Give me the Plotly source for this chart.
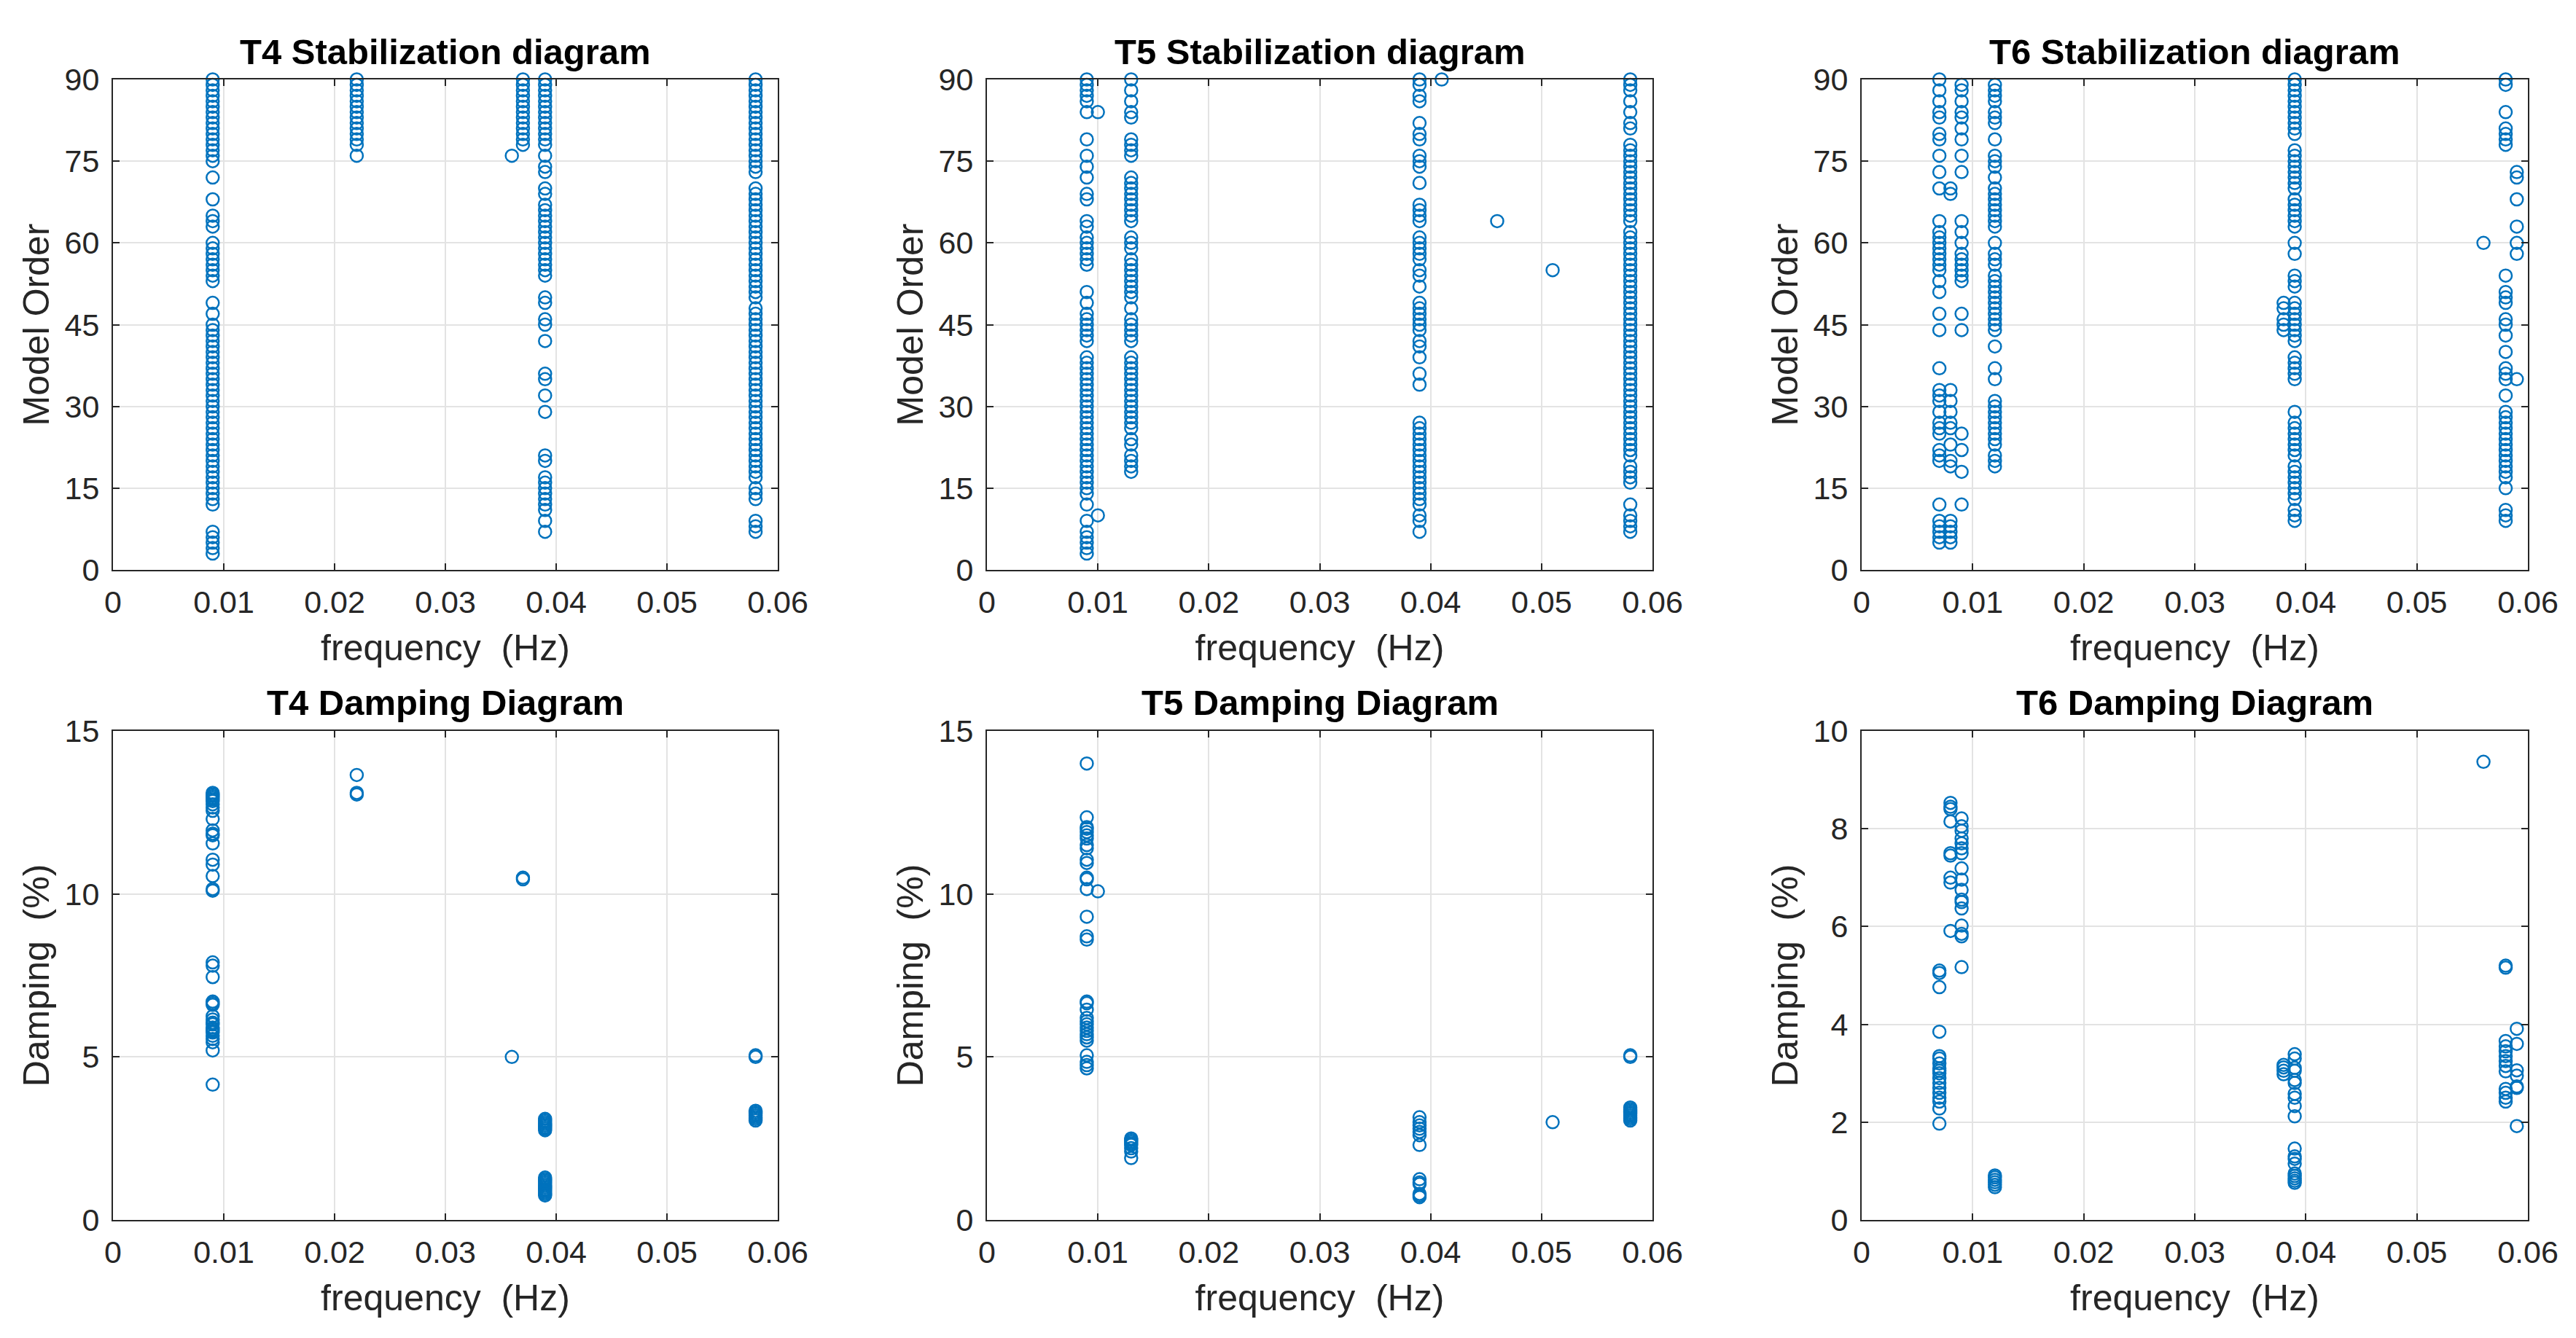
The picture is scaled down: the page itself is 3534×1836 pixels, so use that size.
import plotly.graph_objects as go

# frequencies (Hz) of each pole column and the model orders found there
t4_stab_freq = [0.009, 0.022, 0.036, 0.037, 0.039, 0.058]
t4_stab_order = [
    [3, 4, 5, 6, 7, 12, 13, 14, 15, 16, 17, 18, 19, 20, 21, 22, 23, 24, 25, 26, 27, 28, 29, 30,
     31, 32, 33, 34, 35, 36, 37, 38, 39, 40, 41, 42, 43, 44, 45, 47, 49, 53, 54, 55, 56, 57, 58,
     59, 60, 63, 64, 65, 68, 72, 75, 76, 77, 78, 79, 80, 81, 82, 83, 84, 85, 86, 87, 88, 89, 90],
    [76, 78, 79, 80, 81, 82, 83, 84, 85, 86, 87, 88, 89, 90],
    [76],
    [78, 79, 80, 81, 82, 83, 84, 85, 86, 87, 88, 89, 90],
    [7, 9, 11, 12, 13, 14, 15, 16, 17, 20, 21, 29, 32, 35, 36, 42, 45, 46, 49, 50, 54, 55, 56,
     57, 58, 59, 60, 61, 62, 63, 64, 65, 66, 67, 69, 70, 73, 74, 76, 78, 79, 80, 81, 82, 83, 84,
     85, 86, 87, 88, 89, 90],
    [7, 8, 9, 13, 14, 15, 17, 18, 19, 20, 21, 22, 23, 24, 25, 26, 27, 28, 29, 30, 31, 32, 33, 34,
     35, 36, 37, 38, 39, 40, 41, 42, 43, 44, 45, 46, 47, 48, 50, 51, 52, 53, 54, 55, 56, 57, 58,
     59, 60, 61, 62, 63, 64, 65, 66, 67, 68, 69, 70, 73, 74, 75, 76, 77, 78, 79, 80, 81, 82, 83,
     84, 85, 86, 87, 88, 89, 90],
]

t5_stab_freq = [0.009, 0.010, 0.013, 0.039, 0.041, 0.046, 0.051, 0.058]
t5_stab_order = [
    [3, 4, 5, 6, 7, 9, 12, 14, 15, 16, 17, 18, 19, 20, 21, 22, 23, 24, 25, 26, 27, 28, 29, 30,
     31, 32, 33, 34, 35, 36, 37, 38, 39, 42, 43, 44, 45, 46, 47, 49, 51, 56, 57, 58, 59, 60, 61,
     63, 64, 68, 69, 72, 74, 76, 79, 84, 86, 87, 88, 89, 90],
    [10, 84],
    [18, 19, 20, 21, 23, 24, 26, 27, 28, 29, 30, 31, 32, 33, 34, 35, 36, 37, 38, 39, 42, 43, 44,
     45, 46, 48, 50, 51, 52, 53, 54, 55, 56, 57, 59, 60, 61, 64, 65, 66, 67, 68, 69, 70, 71, 72,
     76, 77, 78, 79, 83, 84, 86, 88, 90],
    [7, 9, 10, 12, 13, 14, 15, 16, 17, 18, 19, 20, 21, 22, 23, 24, 25, 26, 27, 34, 36, 39, 41,
     42, 44, 45, 46, 47, 48, 49, 52, 54, 55, 57, 58, 59, 60, 61, 64, 65, 66, 67, 71, 74, 75, 76,
     79, 80, 82, 86, 87, 89, 90],
    [90],
    [64],
    [55],
    [7, 8, 9, 10, 12, 16, 17, 18, 19, 21, 22, 23, 24, 25, 26, 27, 28, 29, 30, 31, 32, 33, 34, 35,
     36, 37, 38, 39, 40, 41, 42, 43, 44, 45, 46, 47, 48, 49, 50, 51, 52, 53, 54, 55, 56, 57, 58,
     59, 60, 61, 62, 64, 65, 66, 67, 68, 69, 70, 71, 72, 73, 74, 75, 76, 77, 78, 81, 82, 84, 86,
     88, 89, 90],
]

t6_stab_freq = [0.007, 0.008, 0.009, 0.012, 0.038, 0.039, 0.056, 0.058, 0.059]
t6_stab_order = [
    [5, 6, 7, 8, 9, 12, 20, 21, 22, 25, 26, 27, 29, 31, 32, 33, 37, 44, 47, 51, 53, 55, 56, 57,
     58, 59, 60, 61, 62, 64, 70, 73, 76, 79, 80, 83, 84, 86, 88, 90],
    [5, 6, 7, 8, 9, 19, 20, 23, 26, 27, 29, 31, 33, 69, 70],
    [12, 18, 22, 25, 44, 47, 53, 54, 55, 56, 57, 58, 60, 62, 64, 73, 76, 79, 81, 83, 84, 86, 88,
     89],
    [19, 20, 21, 23, 24, 25, 26, 27, 28, 29, 30, 31, 35, 37, 41, 44, 45, 46, 47, 48, 49, 50, 51,
     52, 53, 54, 56, 57, 58, 60, 63, 64, 65, 66, 67, 68, 69, 70, 72, 74, 75, 76, 79, 82, 83, 84,
     86, 87, 88, 89],
    [44, 45, 46, 48, 49],
    [9, 10, 11, 13, 14, 15, 16, 17, 18, 19, 21, 22, 23, 24, 25, 26, 27, 29, 35, 36, 37, 38, 39,
     42, 43, 44, 45, 46, 47, 48, 49, 52, 53, 54, 58, 60, 63, 64, 65, 66, 67, 68, 70, 71, 72, 73,
     74, 75, 76, 77, 80, 81, 82, 83, 84, 85, 86, 87, 88, 89, 90],
    [60],
    [9, 10, 11, 15, 17, 18, 19, 20, 21, 22, 23, 24, 25, 26, 27, 28, 29, 32, 35, 36, 37, 40, 43,
     45, 46, 49, 50, 51, 54, 78, 79, 80, 81, 84, 89, 90],
    [35, 58, 60, 63, 68, 72, 73],
]

# damping ratios (%) of the same pole columns
t4_damp_freq = [0.009, 0.022, 0.036, 0.037, 0.039, 0.058]
t4_damp = [
    [4.15, 5.2, 5.45, 5.55, 5.65, 5.75, 5.8, 5.85, 5.9, 6.0, 6.05, 6.15, 6.25, 6.6, 6.65, 6.7,
     7.45, 7.8, 7.9, 10.1, 10.15, 10.55, 10.9, 11.05, 11.55, 11.8, 11.85, 11.95, 12.3, 12.55,
     12.65, 12.75, 12.85, 12.9, 12.95, 13.0, 13.05, 13.1],
    [13.05, 13.1, 13.65],
    [5.0],
    [10.45, 10.5],
    [0.75, 0.8, 0.85, 0.9, 0.95, 1.0, 1.05, 1.1, 1.15, 1.2, 1.25, 1.3, 2.75, 2.8, 2.85, 2.9,
     2.95, 3.0, 3.05, 3.1],
    [3.05, 3.1, 3.15, 3.2, 3.25, 3.3, 3.35, 5.0, 5.05],
]

t5_damp_freq = [0.009, 0.010, 0.013, 0.039, 0.051, 0.058]
t5_damp = [
    [4.65, 4.75, 4.85, 5.05, 5.5, 5.6, 5.7, 5.8, 5.9, 6.0, 6.1, 6.2, 6.45, 6.65, 6.7, 8.6, 8.7,
     9.3, 10.15, 10.45, 10.5, 10.95, 11.05, 11.4, 11.5, 11.7, 11.8, 11.9, 12.0, 12.05, 12.35,
     14.0],
    [10.08],
    [1.9, 2.1, 2.2, 2.3, 2.35, 2.4, 2.45, 2.5],
    [0.7, 0.75, 0.8, 1.1, 1.15, 1.25, 2.3, 2.6, 2.7, 2.8, 2.9, 3.0, 3.15],
    [3.0],
    [3.05, 3.1, 3.15, 3.2, 3.25, 3.3, 3.35, 3.4, 3.45, 5.0, 5.05],
]

t6_damp_freq = [0.007, 0.008, 0.009, 0.012, 0.038, 0.039, 0.056, 0.058, 0.059]
t6_damp = [
    [1.97, 2.28, 2.42, 2.5, 2.6, 2.7, 2.8, 2.9, 3.0, 3.05, 3.1, 3.2, 3.3, 3.35, 3.85, 4.76,
     5.05, 5.1],
    [5.91, 6.9, 7.0, 7.45, 7.5, 8.15, 8.4, 8.45, 8.53],
    [5.17, 5.8, 5.85, 6.02, 6.37, 6.5, 6.55, 6.75, 6.96, 7.19, 7.5, 7.6, 7.7, 7.8, 7.96, 8.05,
     8.21],
    [0.67, 0.72, 0.77, 0.82, 0.87, 0.91],
    [2.98, 3.05, 3.12, 3.17],
    [0.76, 0.8, 0.85, 0.9, 0.95, 1.15, 1.25, 1.3, 1.46, 2.12, 2.33, 2.5, 2.58, 2.8, 2.86, 3.05,
     3.11, 3.3, 3.39],
    [9.37],
    [2.42, 2.5, 2.6, 2.68, 3.04, 3.15, 3.25, 3.35, 3.45, 3.55, 3.66, 5.16, 5.2],
    [1.92, 2.7, 2.73, 2.95, 3.06, 3.6, 3.91],
]

titles = ["T4 Stabilization diagram", "T5 Stabilization diagram", "T6 Stabilization diagram",
          "T4 Damping Diagram", "T5 Damping Diagram", "T6 Damping Diagram"]

BLUE = "#0072BD"
AX = "#262626"
FONT = "Liberation Sans, Arial, sans-serif"


def flatten(freqs, groups):
    xs, ys = [], []
    for f, vals in zip(freqs, groups):
        for v in vals:
            xs.append(f)
            ys.append(v)
    return xs, ys


panels = [
    flatten(t4_stab_freq, t4_stab_order),
    flatten(t5_stab_freq, t5_stab_order),
    flatten(t6_stab_freq, t6_stab_order),
    flatten(t4_damp_freq, t4_damp),
    flatten(t5_damp_freq, t5_damp),
    flatten(t6_damp_freq, t6_damp),
]

# page body has an 8px margin, so the figure is a bit smaller and positions are shifted
OFF = 8
W, H = 3534 - 2 * OFF, 1836 - 2 * OFF
col_px = [(155, 1067), (1354, 2267), (2554, 3468)]
row_px = [(109, 782), (1003, 1674)]
title_y = [71, 964]

fig = go.Figure()
for i, (xs, ys) in enumerate(panels):
    n = "" if i == 0 else str(i + 1)
    fig.add_trace(go.Scatter(
        x=xs, y=ys, mode="markers", xaxis="x" + n, yaxis="y" + n,
        marker=dict(symbol="circle-open", size=17, color=BLUE, line=dict(width=2.5, color=BLUE)),
        cliponaxis=False, showlegend=False, hoverinfo="x+y"))

    r, c = divmod(i, 3)
    x0, x1 = [p - OFF for p in col_px[c]]
    y0, y1 = [p - OFF for p in row_px[r]]
    if r == 0:
        yrange, ydt, ytitle = [0, 90], 15, "Model Order"
    else:
        ytitle = "Damping\u00a0\u00a0(%)"
        yrange, ydt = ([0, 10], 2) if c == 2 else ([0, 15], 5)

    common = dict(showline=True, linecolor=AX, linewidth=2, mirror="ticks",
                  ticks="inside", ticklen=9, tickwidth=2, tickcolor=AX,
                  showgrid=True, gridcolor="#E3E3E3", gridwidth=2, zeroline=False,
                  tickfont=dict(family=FONT, size=43, color=AX))
    fig.layout["xaxis" + n] = dict(
        domain=[x0 / W, x1 / W], anchor="y" + n, range=[0, 0.06], dtick=0.01, tick0=0,
        title=dict(text="frequency\u00a0\u00a0(Hz)", font=dict(family=FONT, size=50, color=AX),
                   standoff=22),
        ticklabelstandoff=5, **common)
    fig.layout["yaxis" + n] = dict(
        domain=[1 - y1 / H, 1 - y0 / H], anchor="x" + n, range=yrange, dtick=ydt, tick0=0,
        title=dict(text=ytitle, font=dict(family=FONT, size=50, color=AX), standoff=5),
        ticklabelstandoff=8, **common)

    fig.add_annotation(text="<b>%s</b>" % titles[i], x=(x0 + x1) / 2 / W,
                       y=1 - (title_y[r] - OFF) / H,
                       xref="paper", yref="paper", xanchor="center", yanchor="middle",
                       showarrow=False, font=dict(family=FONT, size=49, color="black"))

fig.update_layout(template="none", width=W, height=H, margin=dict(l=0, r=0, t=0, b=0),
                  paper_bgcolor="white", plot_bgcolor="white")

fig.write_html("out.html")
